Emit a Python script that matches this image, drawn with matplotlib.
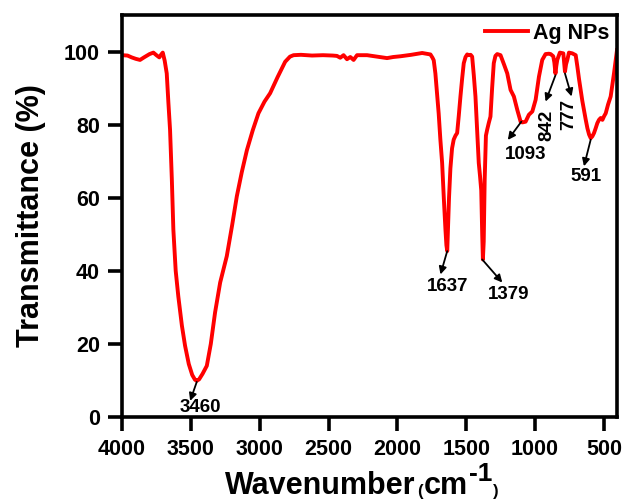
import numpy as np
import matplotlib
matplotlib.use('Agg')
import matplotlib.pyplot as plt

# fonts: arial-like bold everywhere
plt.rcParams['font.family'] = ['Liberation Sans', 'DejaVu Sans']
plt.rcParams['font.weight'] = 'bold'

# spectrum (wavenumber, transmittance)
wavenumber = [4000, 3960, 3930, 3900, 3869, 3840, 3800, 3772, 3750, 3729, 3715, 3704,
              3690, 3675, 3663, 3651, 3638, 3627, 3610, 3591, 3565, 3542, 3515, 3490,
              3470, 3457, 3440, 3415, 3384, 3355, 3324, 3287, 3262, 3239, 3200, 3166,
              3130, 3093, 3050, 3009, 2965, 2924, 2870, 2815, 2780, 2754, 2700, 2620,
              2540, 2470, 2439, 2415, 2391, 2366, 2342, 2318, 2293, 2220, 2150, 2075,
              2030, 1978, 1900, 1850, 1820, 1790, 1760, 1745, 1736, 1724, 1711, 1700,
              1688, 1675, 1663, 1651, 1644, 1638, 1632, 1625, 1615, 1603, 1591, 1578,
              1566, 1554, 1542, 1530, 1518, 1505, 1493, 1481, 1468, 1457, 1445, 1433,
              1421, 1409, 1400, 1391, 1384, 1379, 1373, 1366, 1357, 1348, 1336, 1324,
              1312, 1300, 1288, 1275, 1251, 1226, 1202, 1178, 1154, 1129, 1105, 1093,
              1080, 1069, 1045, 1020, 996, 972, 948, 924, 900, 887, 868, 860,
              852, 846, 839, 820, 795, 789, 783, 775, 766, 754, 730, 705,
              693, 681, 669, 657, 645, 633, 620, 608, 596, 584, 572, 560,
              548, 536, 524, 516, 511, 499, 487, 470, 451, 440, 427, 415, 405]
transmittance = [99.0, 98.9, 98.4, 98.0, 97.7, 98.4, 99.3, 99.7, 99.0, 98.4, 99.2, 99.7,
                 97.5, 94.0, 86.0, 78.6, 65.0, 51.3, 40.0, 33.0, 25.0, 19.5, 14.5, 11.5,
                 10.2, 9.9, 10.3, 11.8, 14.0, 20.0, 28.6, 36.8, 40.5, 44.0, 52.5, 60.4,
                 67.0, 73.0, 78.5, 83.1, 86.3, 88.6, 93.0, 97.2, 98.6, 99.0, 99.1, 98.9,
                 99.0, 98.9, 98.8, 98.3, 99.0, 97.9, 98.5, 97.7, 99.0, 99.0, 98.6, 98.2,
                 98.5, 98.7, 99.1, 99.4, 99.6, 99.4, 99.2, 98.3, 97.6, 94.0, 88.0, 83.0,
                 76.0, 69.5, 60.0, 51.3, 47.0, 45.4, 52.0, 60.0, 68.0, 73.5, 75.9, 77.0,
                 77.7, 82.5, 87.7, 92.5, 96.8, 98.5, 99.2, 99.0, 99.1, 98.6, 93.5, 87.7,
                 78.5, 69.5, 66.0, 62.0, 50.0, 43.1, 48.0, 65.0, 77.0, 78.6, 80.5, 82.2,
                 90.0, 96.8, 98.8, 99.3, 99.0, 96.5, 94.0, 89.5, 87.7, 84.0, 80.8, 80.6,
                 80.7, 80.8, 82.7, 83.6, 86.8, 93.1, 97.7, 99.3, 99.4, 99.3, 98.7, 97.0,
                 94.0, 96.0, 97.7, 99.7, 99.5, 97.0, 94.5, 96.5, 97.7, 99.7, 99.5, 99.0,
                 95.9, 92.5, 89.5, 86.5, 84.0, 81.5, 79.0, 77.3, 76.3, 76.8, 77.7, 79.0,
                 80.4, 81.3, 81.8, 81.5, 81.3, 82.3, 83.1, 85.5, 87.7, 90.5, 94.0, 97.5, 100.4]

# peak labels: text, peak point, arrow head, text position, rotation
peak_labels = ['3460', '1637', '1379', '1093', '842', '777', '591']
peak_xy = [(3457, 9.6), (1638, 45.4), (1384, 43.1), (1100, 80.8), (852, 93.5), (783, 94.0), (596, 75.9)]
head_xy = [(3505, 4.4), (1687, 39.0), (1238, 36.8), (1198, 75.8), (924, 86.3), (735, 87.7), (645, 68.6)]
text_xy = [(3433, 2.6), (1638, 35.8), (1190, 33.6), (1069, 71.9), (911, 79.9), (754, 82.7), (633, 65.8)]
text_rot = [0, 0, 0, 0, 90, 90, 0]

x_ticks = [4000, 3500, 3000, 2500, 2000, 1500, 1000, 500]
y_ticks = [0, 20, 40, 60, 80, 100]

fig = plt.figure(figsize=(6.24, 5.01), dpi=100)
ax = fig.add_axes([0.1955, 0.1677, 0.7933, 0.8024])

ax.plot(wavenumber, transmittance, color='#ff0000', lw=2.8, label='Ag NPs')

# the arrows point from the peak to its label
for i in range(len(peak_labels)):
    ax.annotate('', xy=head_xy[i], xytext=peak_xy[i],
                arrowprops=dict(arrowstyle='-|>', color='black', lw=1.3,
                                mutation_scale=11, shrinkA=0, shrinkB=0))
    ax.text(text_xy[i][0], text_xy[i][1], peak_labels[i], rotation=text_rot[i],
            ha='center', va='center', fontsize=13.5, fontweight='bold')

ax.set_xlim(4000, 405)
ax.set_ylim(0, 110)
ax.set_xticks(x_ticks)
ax.set_yticks(y_ticks)

for side in ['top', 'bottom', 'left', 'right']:
    ax.spines[side].set_linewidth(2.6)
ax.tick_params(direction='out', length=10, width=2.6, labelsize=15.5, pad=6)
for lab in ax.get_xticklabels() + ax.get_yticklabels():
    lab.set_fontweight('bold')

ax.set_ylabel('Transmittance (%)', fontsize=22, fontweight='bold')
ax.yaxis.set_label_coords(-0.154, 0.5)

# x label built piece by piece: small brackets, big raised -1
t1 = fig.text(225 / 624, 6.5 / 501, 'Wavenumber', fontsize=22, fontweight='bold',
              ha='left', va='baseline')
t2 = ax.annotate('(', xy=(1, 0), xycoords=(t1, t1), xytext=(1.5, 2), textcoords='offset points',
                 fontsize=12, fontweight='bold', va='bottom', ha='left', annotation_clip=False)
t3 = ax.annotate('cm', xy=(1, 0), xycoords=(t2, t1), xytext=(0.5, 0), textcoords='offset points',
                 fontsize=22, fontweight='bold', va='bottom', ha='left', annotation_clip=False)
t4 = ax.annotate('-1', xy=(1, 0), xycoords=(t3, t1), xytext=(0.5, 11.4), textcoords='offset points',
                 fontsize=19, fontweight='bold', va='bottom', ha='left', annotation_clip=False)
t5 = ax.annotate(')', xy=(1, 0), xycoords=(t4, t1), xytext=(0.5, 2), textcoords='offset points',
                 fontsize=12, fontweight='bold', va='bottom', ha='left', annotation_clip=False)

ax.legend(loc='upper right', frameon=False, prop={'size': 15.5, 'weight': 'bold'},
          handlelength=2.0, handletextpad=0.25, borderpad=0.0, borderaxespad=0.35)

plt.savefig('out.png', dpi=100)
